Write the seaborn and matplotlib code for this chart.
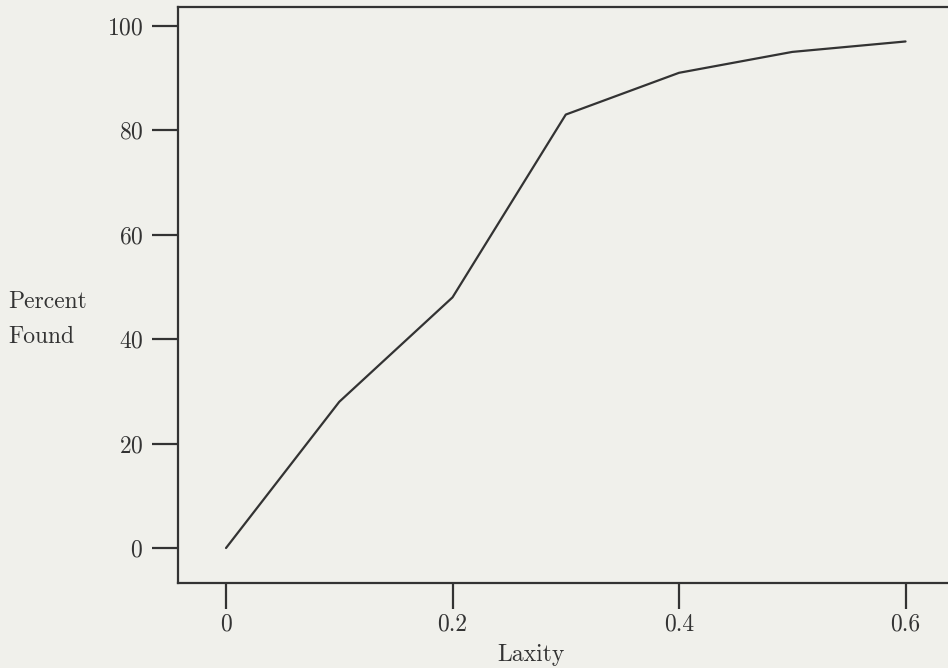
import numpy as np
import pandas as pd
import seaborn as sns
import matplotlib.pyplot as plt

laxity = [0.0, 0.1, 0.2, 0.3, 0.4, 0.5, 0.6]
percent_found = [0, 28, 48, 83, 91, 95, 97]
x_ticks = [0, 0.2, 0.4, 0.6]
x_tick_labels = ['0', '0.2', '0.4', '0.6']
y_ticks = [0, 20, 40, 60, 80, 100]

bg = '#f0f0eb'
ink = '#333333'

sns.set_theme(style='ticks')
plt.rcParams['font.family'] = ['cmr10', 'DejaVu Serif']
plt.rcParams['axes.formatter.use_mathtext'] = True

df = pd.DataFrame({'Laxity': laxity, 'Percent Found': percent_found})

fig = plt.figure(figsize=(9.48, 6.68), dpi=100, facecolor=bg)
# axes box: left 178px, top 7px, bottom 583px, running off the right edge
ax = fig.add_axes([178 / 948, 1 - 583 / 668, 1 - 178 / 948, (583 - 7) / 668])
ax.set_facecolor(bg)

sns.lineplot(data=df, x='Laxity', y='Percent Found', ax=ax, color=ink, linewidth=1.6)

ax.set_xlim(-0.0424, 0.6375)
ax.set_ylim(-6.7, 103.6)
ax.set_xticks(x_ticks)
ax.set_xticklabels(x_tick_labels)
ax.set_yticks(y_ticks)

for side in ['left', 'top', 'bottom']:
    ax.spines[side].set_color(ink)
    ax.spines[side].set_linewidth(1.6)
ax.spines['right'].set_visible(False)

ax.tick_params(axis='both', direction='out', length=19, width=1.6, color=ink,
               labelcolor=ink, labelsize=17, pad=6)
ax.tick_params(axis='x', pad=3)

ax.set_xlabel('')
ax.set_ylabel('')
fig.text(497 / 948, 1 - 661 / 668, 'Laxity', fontsize=17, color=ink,
         ha='left', va='baseline')
fig.text(8 / 948, 1 - 302 / 668, 'Percent', fontsize=17, color=ink,
         ha='left', va='center')
fig.text(8 / 948, 1 - 337 / 668, 'Found', fontsize=17, color=ink,
         ha='left', va='center')

fig.savefig('out.png', dpi=100, facecolor=bg)
